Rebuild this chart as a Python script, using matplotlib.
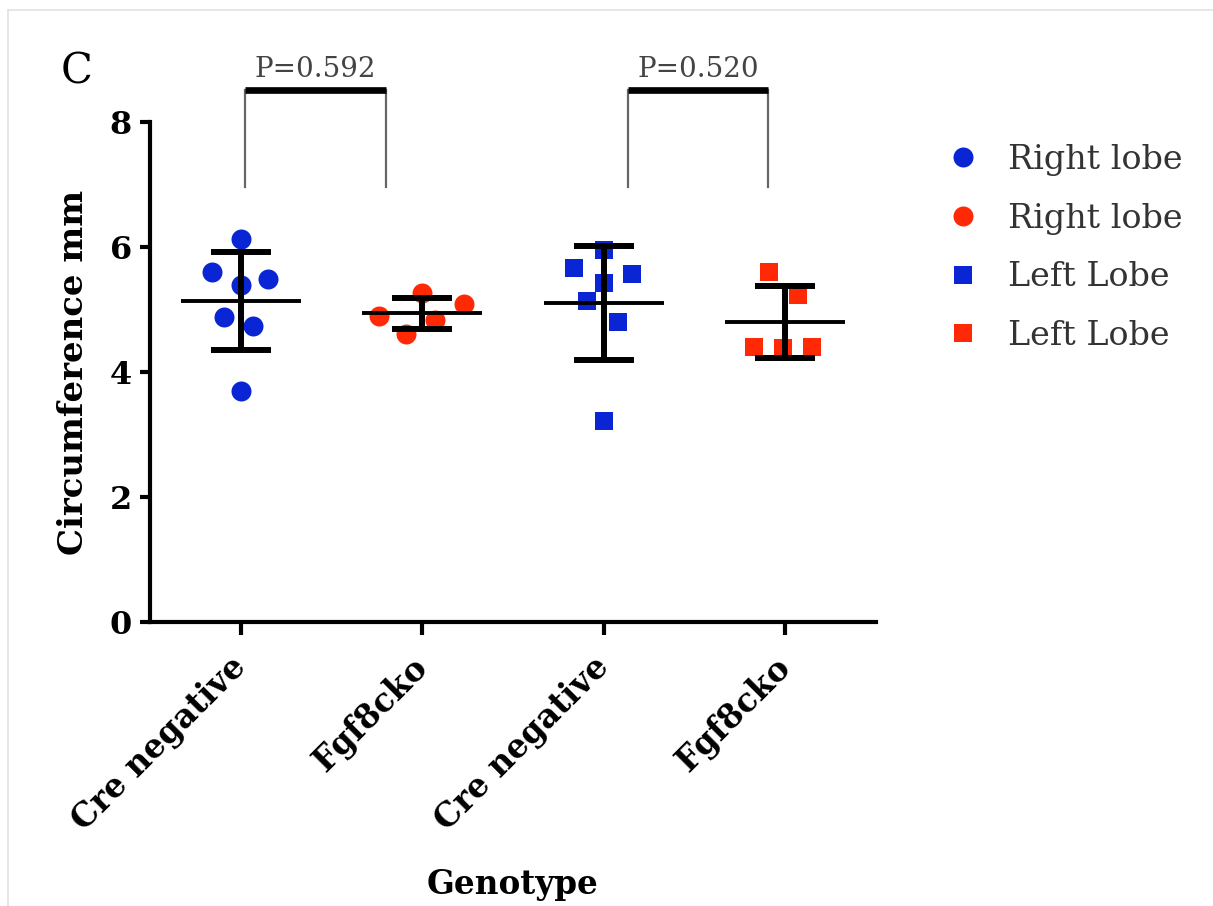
import numpy as np
import matplotlib
matplotlib.use("Agg")
import matplotlib.pyplot as plt
from matplotlib.lines import Line2D

# Circumference (mm) per animal
right_cre = [6.13, 5.60, 5.39, 5.49, 4.88, 4.74, 3.70]
right_cko = [4.90, 5.26, 4.61, 4.83, 5.09]
left_cre = [5.95, 5.67, 5.57, 5.42, 5.14, 4.80, 3.22]
left_cko = [5.60, 5.23, 4.40, 4.38, 4.40]

# horizontal scatter offsets of the individual points
off_right_cre = [0.0, -0.16, 0.0, 0.15, -0.09, 0.07, 0.0]
off_right_cko = [-0.24, 0.0, -0.09, 0.07, 0.23]
off_left_cre = [0.0, -0.165, 0.155, 0.0, -0.09, 0.08, 0.0]
off_left_cko = [-0.09, 0.07, -0.17, -0.01, 0.15]

tick_labels = ["Cre negative", "Fgf8cko", "Cre negative", "Fgf8cko"]
legend_labels = ["Right lobe", "Right lobe", "Left Lobe", "Left Lobe"]
p_labels = ["P=0.592", "P=0.520"]
bracket_x = [(1.023, 1.80), (3.134, 3.905)]
bracket_y = (6.96, 8.51)

BLUE = "#0a26d4"
RED = "#ff2a05"

groups = [right_cre, right_cko, left_cre, left_cko]
offsets = [off_right_cre, off_right_cko, off_left_cre, off_left_cko]
colors = [BLUE, RED, BLUE, RED]
markers = ["o", "o", "s", "s"]
msizes = [14.4, 14.4, 13.0, 13.0]

plt.rcParams["font.family"] = ["DejaVu Serif"]

fig = plt.figure(figsize=(12.13, 9.06), dpi=100)
ax = fig.add_axes([150 / 1213, 1 - 622 / 906, 726 / 1213, 500 / 906])

for i, (vals, offs, c, m, ms) in enumerate(zip(groups, offsets, colors, markers, msizes)):
    pos = i + 1
    xs = pos + np.array(offs)
    ax.plot(xs, vals, linestyle="none", marker=m, markersize=ms,
            color=c, markeredgewidth=0, zorder=2)
    mean = np.mean(vals)
    sd = np.std(vals, ddof=1)
    ax.errorbar([pos], [mean], yerr=[sd], fmt="none", ecolor="black",
                elinewidth=4.3, capsize=21.5, capthick=4.3, zorder=3)
    ax.hlines(mean, pos - 0.33, pos + 0.33, color="black", lw=2.8, zorder=3)

# significance brackets
for (x0, x1), lab in zip(bracket_x, p_labels):
    ax.plot([x0, x0], [bracket_y[0], bracket_y[1]], color="#666666", lw=1.6,
            clip_on=False, zorder=1)
    ax.plot([x1, x1], [bracket_y[0], bracket_y[1]], color="#666666", lw=1.6,
            clip_on=False, zorder=1)
    ax.plot([x0, x1], [bracket_y[1], bracket_y[1]], color="black", lw=4.8,
            clip_on=False, solid_capstyle="butt", zorder=1)
    ax.text((x0 + x1) / 2, bracket_y[1] + 0.12, lab, ha="center", va="bottom",
            fontsize=20, color="#444444", clip_on=False)

ax.set_xlim(0.5, 4.5)
ax.set_ylim(0, 8)
ax.set_yticks([0, 2, 4, 6, 8])
ax.set_xticks([1, 2, 3, 4])
ax.set_xticklabels(tick_labels, rotation=45, ha="right", va="center",
                   rotation_mode="anchor", fontsize=23.5, fontweight="bold")
for lab in ax.get_yticklabels():
    lab.set_fontsize(23)
    lab.set_fontweight("bold")

for s in ["top", "right"]:
    ax.spines[s].set_visible(False)
for s in ["left", "bottom"]:
    ax.spines[s].set_linewidth(3)
ax.tick_params(axis="y", length=7, width=3, pad=6)
ax.tick_params(axis="x", length=9, width=3, pad=20)

ax.set_ylabel("Circumference mm", fontsize=24.5, fontweight="bold", labelpad=14)
ax.set_xlabel("Genotype", fontsize=23.5, fontweight="bold", labelpad=22)

handles = [Line2D([], [], linestyle="none", marker=m, markersize=ms,
                  color=c, markeredgewidth=0)
           for m, ms, c in zip(markers, msizes, colors)]
leg = fig.legend(handles, legend_labels, loc="upper left",
                 bbox_to_anchor=(946 / 1213, 1 - 144 / 906),
                 frameon=False, fontsize=24, handlelength=1.0,
                 handletextpad=0.85, labelspacing=0.8, borderpad=0,
                 borderaxespad=0)
for t in leg.get_texts():
    t.set_color("#333333")

# panel letter
fig.text(61 / 1213, 1 - 83 / 906, "C", fontsize=30, color="black",
         ha="left", va="baseline")

# faint frame edge along the top and left
fig.add_artist(Line2D([8 / 1213, 1], [1 - 10 / 906, 1 - 10 / 906],
                      color="#e2e2e2", lw=1.2))
fig.add_artist(Line2D([8 / 1213, 8 / 1213], [0, 1 - 10 / 906],
                      color="#e2e2e2", lw=1.2))

fig.savefig("out.png", dpi=100)
